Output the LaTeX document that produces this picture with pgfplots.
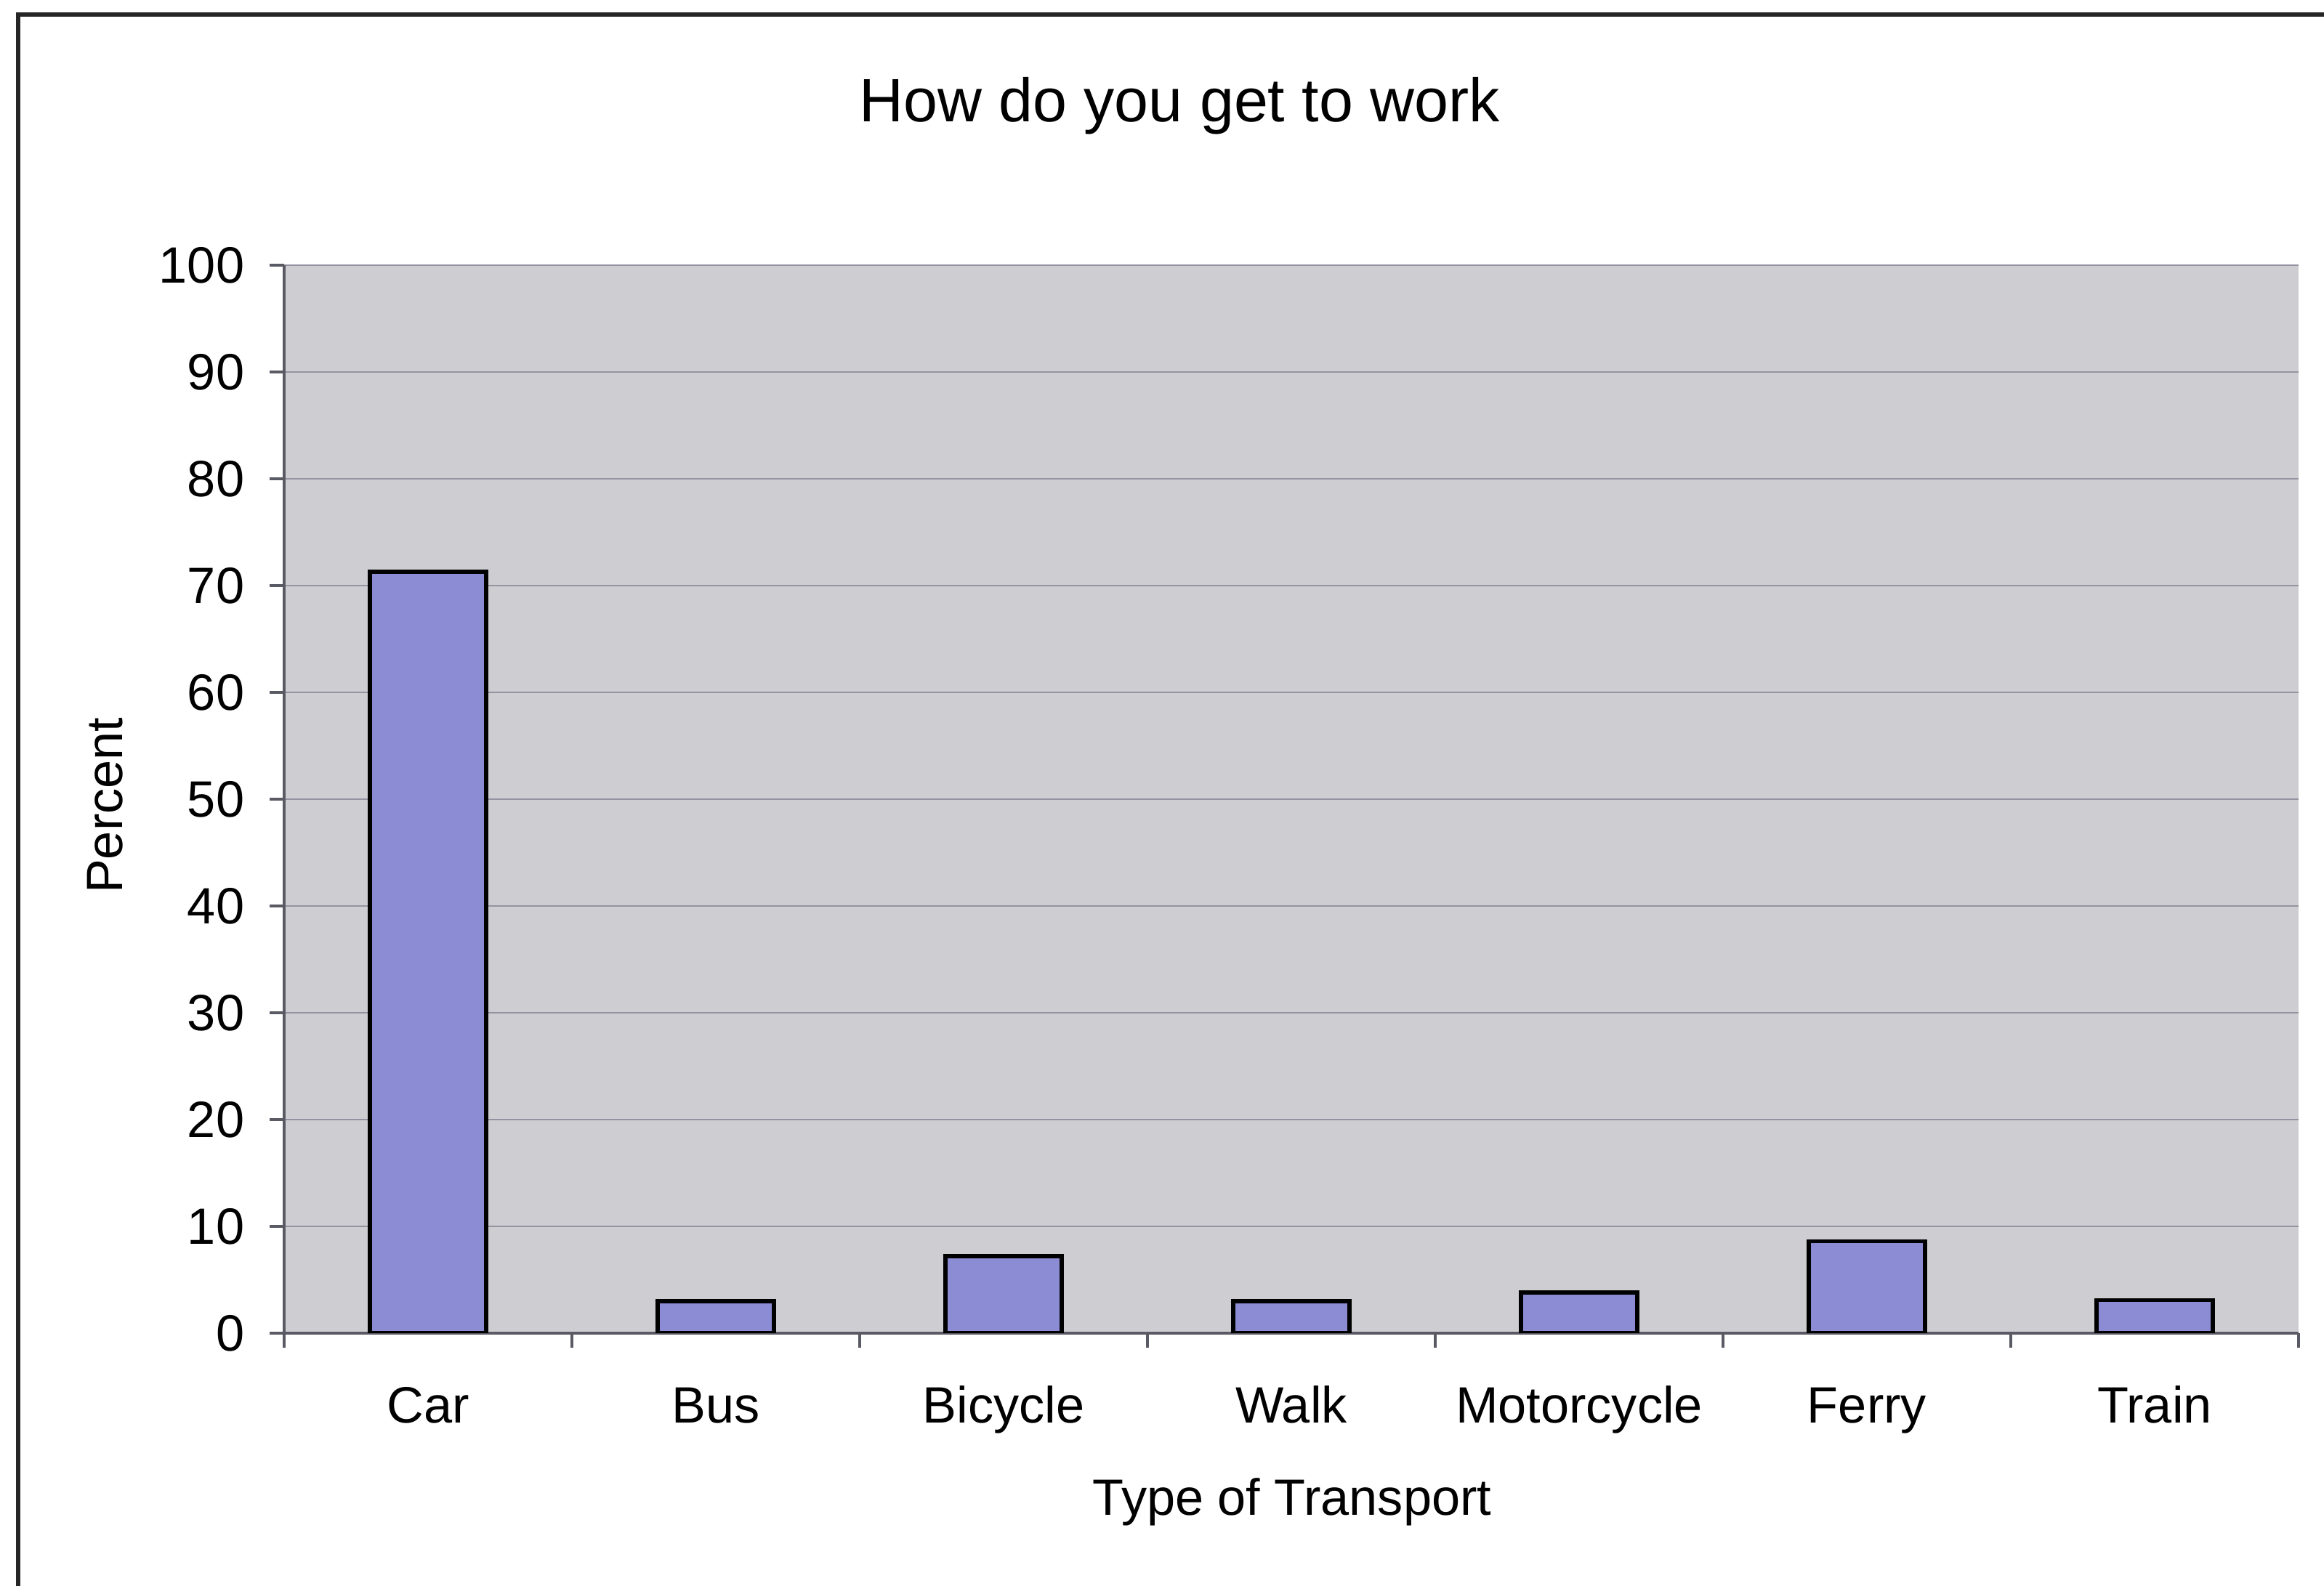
\documentclass[border=0pt]{standalone}
\usepackage{fontspec}
\setmainfont{Liberation Sans}
\usepackage{pgfplots}
\pgfplotsset{compat=1.18}
\definecolor{bgfill}{RGB}{206,206,210}
\definecolor{barfill}{RGB}{140,140,212}
\definecolor{gridc}{RGB}{150,145,160}
\definecolor{axc}{RGB}{90,90,100}
\begin{document}
\begin{tikzpicture}
\useasboundingbox (-1.955,-1.74) rectangle (14.035,9.175);
\draw[line width=0.9pt, black!85] (-1.83,-1.74) -- (-1.83,9.075) -- (14.035,9.075);
\begin{axis}[
  at={(0,0)}, anchor=south west,
  scale only axis, width=13.86cm, height=7.35cm,
  xmin=-0.5, xmax=6.5, ymin=0, ymax=100,
  ybar, bar width=0.8cm,
  xtick={-0.5,0.5,...,6.5}, x tick label as interval,
  xticklabels={Car,Bus,Bicycle,Walk,Motorcycle,Ferry,Train},
  ytick={0,10,...,100},
  axis background/.style={fill=bgfill},
  axis x line*=bottom, axis y line*=left,
  axis line style={axc, line width=0.6pt},
  tick align=outside, major tick length=0.1cm,
  tick style={axc, line width=0.6pt},
  ymajorgrids, grid style={gridc, line width=0.4pt},
  /pgf/number format/assume math mode=true,
  tick label style={font=\fontsize{10}{12}\selectfont},
  xticklabel style={anchor=base, yshift=-0.515cm},
  yticklabel style={anchor=east, xshift=-0.05cm},
  title={How do you get to work},
  title style={font=\fontsize{12}{14}\selectfont, anchor=base, at={(axis description cs:0.4445,1)}, yshift=0.774cm},
  xlabel={Type of Transport},
  xlabel style={font=\fontsize{10}{12}\selectfont, anchor=base, at={(axis description cs:0.5004,0)}, yshift=-1.25cm},
  ylabel={Percent},
  ylabel style={font=\fontsize{10}{12}\selectfont, anchor=base, at={(axis description cs:-0.08045,0.494)}},
]
\addplot[fill=barfill, draw=black, line width=0.8pt] coordinates {
  (0,71.3) (1,3.0) (2,7.2) (3,3.0) (4,3.8) (5,8.6) (6,3.1)
};
\end{axis}
\end{tikzpicture}
\end{document}
